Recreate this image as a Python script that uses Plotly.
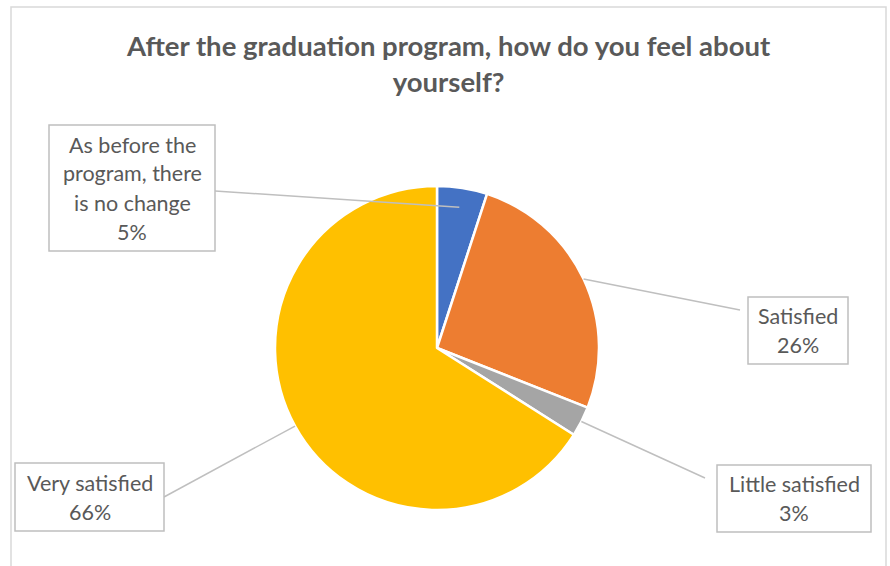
import math
import plotly.graph_objects as go

# Survey answers (share of respondents, %)
labels = ["As before the program, there is no change", "Satisfied", "Little satisfied", "Very satisfied"]
values = [5, 26, 3, 66]
colors = ["#4472C4", "#ED7D31", "#A5A5A5", "#FFC000"]

# Text lines shown inside each callout box
callout_lines = [
    ["As before the", "program, there", "is no change"],
    ["Satisfied"],
    ["Little satisfied"],
    ["Very satisfied"],
]

W, H = 890, 566
TITLE = "After the graduation program, how do you feel about<br>yourself?"

# pie geometry in pixels
CX, CY, R = 437, 348, 162

# callout boxes: (left, top, right, bottom) in pixels, and where the leader line leaves the box
boxes = [
    (49, 125, 215, 251),
    (748, 297, 848, 364),
    (717, 465, 871, 532),
    (15, 463, 164, 531),
]
line_out = [(215, 191), (740, 310), (705, 478), (164, 497)]
inner_frac = [0.88, 1.0, 1.0, 1.0]
line_step = 29


def px(x):
    return x / W


def py(y):
    return 1 - y / H


fig = go.Figure(
    go.Pie(
        labels=labels,
        values=values,
        sort=False,
        direction="clockwise",
        rotation=0,
        marker=dict(colors=colors, line=dict(color="white", width=2.5)),
        textinfo="none",
        hoverinfo="label+percent",
        showlegend=False,
        domain=dict(x=[px(CX - R), px(CX + R)], y=[py(CY + R), py(CY - R)]),
    )
)

shapes = [
    dict(type="rect", xref="paper", yref="paper",
         x0=px(11), x1=px(886), y0=py(575), y1=py(7),
         line=dict(color="#D9D9D9", width=1.5), fillcolor="rgba(0,0,0,0)", layer="below"),
]
annotations = []

total = sum(values)
cum = 0
for i, v in enumerate(values):
    mid = (cum + v / 2) / total * 2 * math.pi
    cum += v
    rr = R * inner_frac[i]
    ix, iy = CX + rr * math.sin(mid), CY - rr * math.cos(mid)
    ox, oy = line_out[i]
    shapes.append(dict(type="line", xref="paper", yref="paper",
                       x0=px(ox), y0=py(oy), x1=px(ix), y1=py(iy),
                       line=dict(color="#BFBFBF", width=1.5)))
    l, t, r, b = boxes[i]
    shapes.append(dict(type="rect", xref="paper", yref="paper",
                       x0=px(l), x1=px(r), y0=py(b), y1=py(t),
                       line=dict(color="#BFBFBF", width=1.5), fillcolor="white"))
    lines = callout_lines[i] + [f"{round(v / total * 100)}%"]
    cy_box = (t + b) / 2
    n = len(lines)
    for k, s in enumerate(lines):
        yy = cy_box + (k - (n - 1) / 2) * line_step
        annotations.append(dict(x=px((l + r) / 2), y=py(yy), xref="paper", yref="paper",
                                text=s, showarrow=False, xanchor="center", yanchor="middle",
                                font=dict(family="Lato", size=21.5, color="#595959")))

annotations.append(dict(x=px(448), y=py(63.5), xref="paper", yref="paper", text=TITLE,
                        showarrow=False, xanchor="center", yanchor="middle",
                        font=dict(family="Lato", size=27.5, color="#595959", weight="bold")))

fig.update_layout(
    width=W, height=H,
    margin=dict(l=0, r=0, t=0, b=0),
    paper_bgcolor="white", plot_bgcolor="white",
    shapes=shapes, annotations=annotations,
)

fig.write_html("out.html")
